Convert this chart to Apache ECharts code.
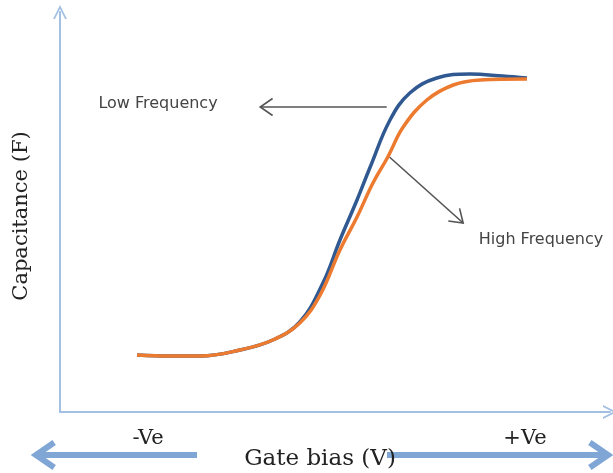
<!DOCTYPE html>
<html>
<head>
<meta charset="utf-8">
<script src="https://cdn.jsdelivr.net/npm/echarts@6/dist/echarts.min.js"></script>
<style>html,body{margin:0;padding:0;background:#fff;}#c{width:613px;height:473px;}</style>
</head>
<body>
<div id="c"></div>
<script>
// Gate bias (arbitrary units, 0..100) and capacitance (arbitrary units, 0..100)
const lowFreqX = [14.0, 20.0, 25.5, 32.7, 38.7, 43.6, 47.8, 50.9, 54.0, 56.4, 60.0, 63.6, 68.5, 74.5, 80.5, 84.9];
const lowFreqY = [14.25, 14.0, 14.0, 15.5, 18.0, 22.5, 32.25, 43.0, 53.0, 61.25, 73.0, 79.75, 83.5, 84.5, 84.0, 83.5];
const highFreqX = [14.0, 20.0, 25.5, 32.7, 38.7, 43.6, 47.3, 50.9, 54.0, 56.9, 59.6, 62.4, 66.7, 71.5, 76.4, 84.9];
const highFreqY = [14.25, 14.0, 14.0, 15.5, 18.0, 22.25, 29.25, 40.5, 48.75, 57.25, 63.75, 71.25, 78.0, 81.75, 83.0, 83.25];
const yTitle = 'Capacitance (F)';
const xTitle = 'Gate bias (V)';
const negLabel = '-Ve';
const posLabel = '+Ve';
const lowLabel = 'Low Frequency';
const highLabel = 'High Frequency';
// annotation anchors in data coordinates
const lowArrow = [[59.4, 76.25], [36.4, 76.25]];
const highArrow = [[59.9, 63.75], [73.3, 47.25]];

const zip = (xs, ys) => xs.map((x, i) => [x, ys[i]]);
const axisCol = '#a3bfe2';
const chev = 'path://M0,10 L5,0 L10,10 L8.6,10 L5,2.8 L1.4,10 Z';

const chart = echarts.init(document.getElementById('c'), null, {renderer: 'canvas'});
chart.setOption({
  backgroundColor: '#fff',
  animation: false,
  grid: {left: 60, right: 3, top: 12, bottom: 61},
  xAxis: {
    type: 'value', min: 0, max: 100,
    axisLine: {show: true, lineStyle: {color: axisCol, width: 2}, symbol: ['none', chev], symbolSize: [20, 14]},
    axisTick: {show: false}, axisLabel: {show: false}, splitLine: {show: false}
  },
  yAxis: {
    type: 'value', min: 0, max: 100,
    axisLine: {show: true, lineStyle: {color: axisCol, width: 2}, symbol: ['none', chev], symbolSize: [20, 14]},
    axisTick: {show: false}, axisLabel: {show: false}, splitLine: {show: false}
  },
  series: [
    {type: 'line', name: highLabel, data: zip(highFreqX, highFreqY), smooth: 0.4, showSymbol: false,
     lineStyle: {color: '#ec7a2f', width: 3.5}, z: 2},
    {type: 'line', name: lowLabel, data: zip(lowFreqX, lowFreqY), smooth: 0.4, showSymbol: false,
     lineStyle: {color: '#2f5990', width: 3.5}, z: 1}
  ]
});

function px(p) { return chart.convertToPixel({gridIndex: 0}, p); }
function arrowGraphic(a, b, head, col, w) {
  const ang = Math.atan2(b[1] - a[1], b[0] - a[0]);
  const h1 = [b[0] - head * Math.cos(ang - 0.6), b[1] - head * Math.sin(ang - 0.6)];
  const h2 = [b[0] - head * Math.cos(ang + 0.6), b[1] - head * Math.sin(ang + 0.6)];
  return [
    {type: 'polyline', shape: {points: [a, b]}, style: {stroke: col, lineWidth: w, fill: null}},
    {type: 'polyline', shape: {points: [h1, b, h2]}, style: {stroke: col, lineWidth: w, fill: null, lineJoin: 'miter'}}
  ];
}
const la = lowArrow.map(px), ha = highArrow.map(px);
const g = [];
g.push(...arrowGraphic(la[0], la[1], 15, '#555', 1.6));
g.push(...arrowGraphic(ha[0], ha[1], 15, '#555', 1.6));
// bottom axis direction arrows
g.push(...arrowGraphic([197, 455], [36, 455], 22, '#80a6d6', 6));
g.push(...arrowGraphic([387, 455], [608, 455], 22, '#80a6d6', 6));
const sans = '"DejaVu Sans", sans-serif';
const serif = '"DejaVu Serif", serif';
g.push({type: 'text', x: 158, y: 104, style: {text: lowLabel, font: '16px ' + sans, fill: '#444', align: 'center', verticalAlign: 'middle'}});
g.push({type: 'text', x: 541, y: 240, style: {text: highLabel, font: '16px ' + sans, fill: '#444', align: 'center', verticalAlign: 'middle'}});
g.push({type: 'text', x: 148, y: 439, style: {text: negLabel, font: '21px ' + serif, fill: '#222', align: 'center', verticalAlign: 'middle'}});
g.push({type: 'text', x: 525, y: 439, style: {text: posLabel, font: '21px ' + serif, fill: '#222', align: 'center', verticalAlign: 'middle'}});
g.push({type: 'text', x: 320, y: 459, style: {text: xTitle, font: '23px ' + serif, fill: '#222', align: 'center', verticalAlign: 'middle'}});
g.push({type: 'text', x: 22, y: 216, rotation: Math.PI / 2, style: {text: yTitle, font: '21px ' + serif, fill: '#222', align: 'center', verticalAlign: 'middle'}});
chart.setOption({graphic: g});
</script>
</body>
</html>
